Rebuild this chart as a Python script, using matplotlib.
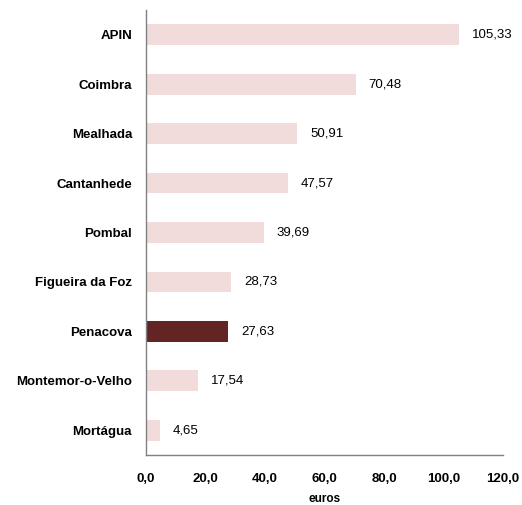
import matplotlib as mpl
mpl.use('Agg')
import matplotlib.pyplot as plt

# data (top to bottom)
municipios = ['APIN', 'Coimbra', 'Mealhada', 'Cantanhede', 'Pombal',
              'Figueira da Foz', 'Penacova', 'Montemor-o-Velho', 'Mortágua']
valores = [105.33, 70.48, 50.91, 47.57, 39.69, 28.73, 27.63, 17.54, 4.65]
destaque = 'Penacova'
x_ticks = [0, 20, 40, 60, 80, 100, 120]

plt.rcParams['font.family'] = ['Liberation Sans', 'DejaVu Sans']

fig = plt.figure(figsize=(5.22, 5.05), dpi=100)
ax = fig.add_axes([0.2797, 0.099, 0.6839, 0.881])

cores = ['#632523' if m == destaque else '#f2dcdb' for m in municipios]
pos = list(range(len(municipios)))
ax.barh(pos, valores, height=0.42, color=cores)

# value labels
for p, v in zip(pos, valores):
    ax.text(v + 4.3, p, ('%.2f' % v).replace('.', ','), va='center',
            ha='left', fontsize=9.5)

ax.set_ylim(len(municipios) - 0.5, -0.5)
ax.set_xlim(0, 120)
ax.set_yticks(pos)
ax.set_yticklabels(municipios, fontsize=9.5, fontweight='bold')
ax.set_xticks(x_ticks)
ax.set_xticklabels([('%.1f' % t).replace('.', ',') for t in x_ticks],
                   fontsize=9.5, fontweight='bold')
ax.tick_params(axis='both', length=0)
ax.tick_params(axis='y', pad=10)
ax.tick_params(axis='x', pad=13)
ax.set_xlabel('euros', fontsize=8.5, fontweight='bold', labelpad=6)

for s in ['top', 'right']:
    ax.spines[s].set_visible(False)
for s in ['left', 'bottom']:
    ax.spines[s].set_color('#808080')
    ax.spines[s].set_linewidth(1)

fig.savefig('out.png', dpi=100)
